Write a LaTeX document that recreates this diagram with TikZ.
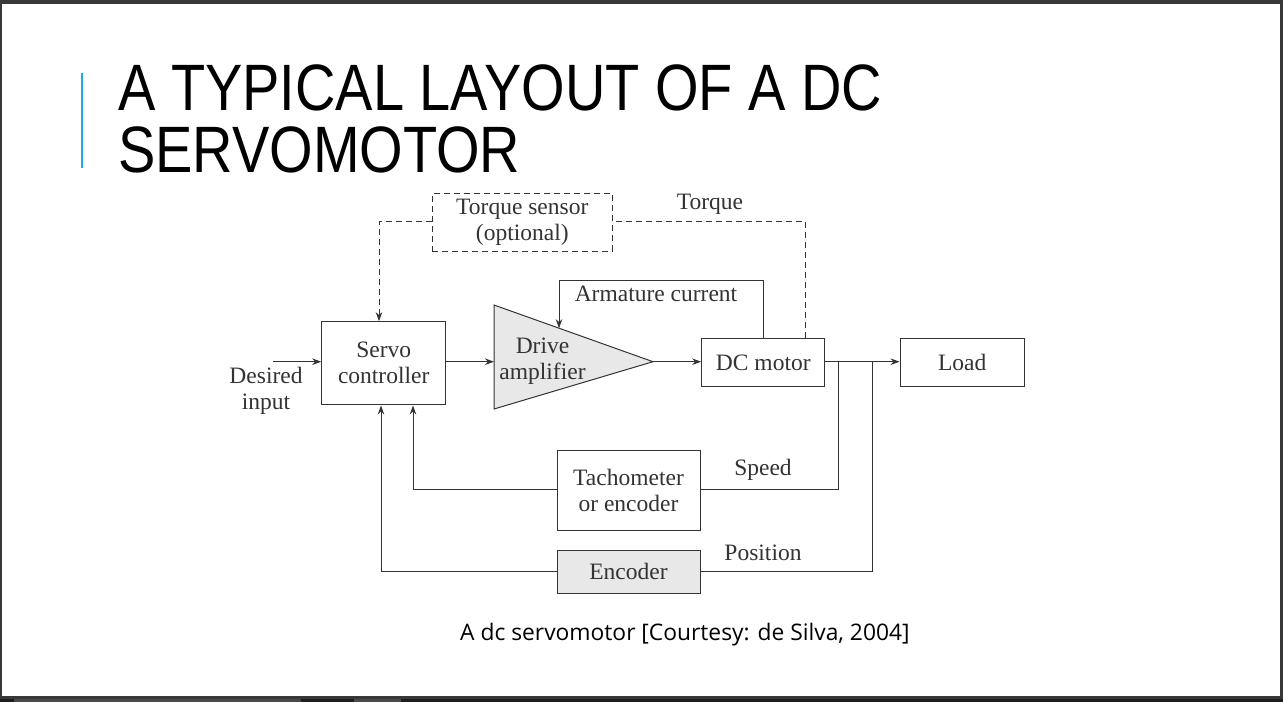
\documentclass[tikz,border=0pt]{standalone}
\usepackage{fontspec}
\setmainfont{Liberation Serif}
\newfontfamily\titlefont{Liberation Sans}
\newfontfamily\capfont{Open Sans}
\usetikzlibrary{arrows.meta}
\definecolor{frame}{HTML}{383838}
\definecolor{framedark}{HTML}{1E1E1E}
\definecolor{framelight}{HTML}{4A4A4A}
\definecolor{accent}{HTML}{1EAAE6}
\definecolor{ink}{HTML}{333333}
\definecolor{shade}{HTML}{E8E8E8}
\tikzset{
  blk/.style={draw=ink, line width=1pt, inner sep=0pt, align=center, text=ink,
    font=\fontsize{23.5}{26}\selectfont},
  lbl/.style={inner sep=0pt, align=center, text=ink, font=\fontsize{23.5}{26}\selectfont},
  wire/.style={draw=ink, line width=1pt},
  arr/.style={wire, -{Stealth[length=9pt,width=6.5pt]}},
  dsh/.style={dash pattern=on 6pt off 4pt},
}
\begin{document}
\begin{tikzpicture}[x=1pt,y=-1pt]
\useasboundingbox (0,0) rectangle (1283,702);
% slide frame
\fill[white] (0,0) rectangle (1283,702);
\fill[frame] (0,0) rectangle (1283,3.5);
\fill[frame] (0,0) rectangle (1.5,702);
\fill[frame] (1280,0) rectangle (1283,702);
\fill[frame] (0,695.5) rectangle (1283,699);
\fill[framedark] (0,699) rectangle (1283,702);
\fill[framelight] (14,699) rectangle (301,702);
\fill[framelight] (354,699) rectangle (401,702);
% title
\fill[accent] (80.5,73) rectangle (82.5,168);
\node[anchor=base west, inner sep=0pt, text=black] (t1) at (118,110)
  {\scalebox{0.853}[1]{\titlefont\fontsize{65.6}{70}\selectfont A TYPICAL LAYOUT OF A DC}};
\node[anchor=base west, inner sep=0pt, text=black] (t2) at (118,172)
  {\scalebox{0.853}[1]{\titlefont\fontsize{65.6}{70}\selectfont SERVOMOTOR}};
% blocks
\node[blk, dsh, minimum width=180pt, minimum height=57.7pt] (ts) at (522.3,222.2) {Torque sensor\\(optional)};
\node[blk, minimum width=124pt, minimum height=83.3pt] (sc) at (383.7,363.3) {Servo\\controller};
\node[blk, minimum width=123.3pt, minimum height=48.4pt] (dc) at (763.3,362.5) {DC motor};
\node[blk, minimum width=124.3pt, minimum height=48.4pt] (ld) at (962.2,362.5) {Load};
\node[blk, minimum width=143pt, minimum height=80pt] (tach) at (628.5,490) {Tachometer\\or encoder};
\node[blk, fill=shade, minimum width=143pt, minimum height=43pt] (enc) at (628.5,571.5) {Encoder};
% amplifier
\coordinate (ampa) at (494,305);
\coordinate (ampb) at (494,409);
\coordinate (amptip) at (653,361.7);
\coordinate (ampin) at (494,361.7);
\filldraw[fill=shade, draw=ink, line width=1pt] (ampa) -- (amptip) -- (ampb) -- cycle;
\node[lbl] (amptxt) at (542.5,361) {Drive\\amplifier};
% labels
\node[lbl] (din) at (266,391) {Desired\\input};
\node[lbl] (ltq) at (710,204) {Torque};
\node[lbl] (lac) at (656,294) {Armature current};
\node[lbl] (lsp) at (763,470) {Speed};
\node[lbl] (lps) at (763,553) {Position};
% connectors
\coordinate (dstart) at (273,361.7);
\draw[arr] (dstart) -- (sc.west |- dstart);
\draw[arr] (sc.east |- ampin) -- (ampin);
\draw[arr] (amptip) -- (dc.west |- amptip);
\coordinate (jsp) at (838.3,361.7);
\coordinate (jps) at (872.3,361.7);
\draw[arr] (dc.east |- amptip) -- (ld.west |- amptip);
% armature current
\coordinate (acr) at (763.3,280);
\coordinate (acl) at (559,280);
\coordinate (acend) at (559,328.2);
\draw[arr] (dc.north -| acr) -- (acr) -- (acl) -- (acend);
% torque
\coordinate (tqr) at (805.7,221.7);
\coordinate (tql) at (379,221.7);
\draw[wire, dsh] (dc.north -| tqr) -- (tqr) -- (ts.east |- tqr);
\draw[arr, dsh] (ts.west |- tql) -- (tql) -- (sc.north -| tql);
% speed
\coordinate (spd) at (838.3,489);
\coordinate (spl) at (413,489);
\draw[wire] (jsp) -- (spd) -- (tach.east |- spd);
\draw[arr] (tach.west |- spl) -- (spl) -- (sc.south -| spl);
% position
\coordinate (psd) at (872.3,571);
\coordinate (psl) at (381,571);
\draw[wire] (jps) -- (psd) -- (enc.east |- psd);
\draw[arr] (enc.west |- psl) -- (psl) -- (sc.south -| psl);
% caption
\node[anchor=base west, inner sep=0pt, text=black] (cap) at (460,640)
  {\capfont\fontsize{22.8}{26}\selectfont A dc servomotor [Courtesy: de Silva, 2004]};
\end{tikzpicture}
\end{document}
